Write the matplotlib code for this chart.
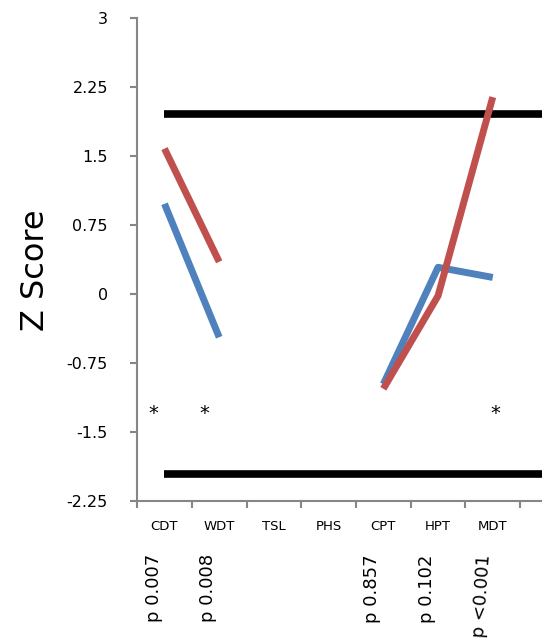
import numpy as np
import matplotlib.pyplot as plt
import matplotlib.transforms as mtransforms

# DATA
categories = ['CDT', 'WDT', 'TSL', 'PHS', 'CPT', 'HPT', 'MDT']
red_seg1 = [1.58, 0.35]            # CDT, WDT
blue_seg1 = [0.98, -0.47]
red_seg2 = [-1.03, -0.02, 2.14]    # CPT, HPT, MDT
blue_seg2 = [-0.98, 0.29, 0.18]
limit_z = 1.96
star_cats = ['CDT', 'WDT', 'MDT']
star_y = -1.3
p_labels = {'CDT': 'p 0.007', 'WDT': 'p 0.008', 'CPT': 'p 0.857',
            'HPT': 'p 0.102', 'MDT': 'p <0.001'}
yticks = [3, 2.25, 1.5, 0.75, 0, -0.75, -1.5, -2.25]
ytick_labels = ['3', '2.25', '1.5', '0.75', '0', '-0.75', '-1.5', '-2.25']

red = '#C0504D'
blue = '#4F81BD'

fig = plt.figure(figsize=(5.42, 6.42), dpi=100)
ax = fig.add_axes([0.253, 0.2196, 0.747, 0.7524])

idx = {c: i for i, c in enumerate(categories)}

# reference lines at +-1.96
ax.plot([0, 7.5], [limit_z, limit_z], color='black', lw=5.5, solid_capstyle='butt')
ax.plot([0, 7.5], [-limit_z, -limit_z], color='black', lw=5.5, solid_capstyle='butt')

ax.plot([idx['CDT'], idx['WDT']], red_seg1, color=red, lw=5, solid_capstyle='butt')
ax.plot([idx['CDT'], idx['WDT']], blue_seg1, color=blue, lw=5, solid_capstyle='butt')
x2 = [idx['CPT'], idx['HPT'], idx['MDT']]
ax.plot(x2, blue_seg2, color=blue, lw=5, solid_capstyle='butt')
ax.plot(x2, red_seg2, color=red, lw=5, solid_capstyle='butt')

# significance stars
star_dx = {'CDT': -0.2, 'WDT': -0.28, 'MDT': 0.05}
for c in star_cats:
    ax.text(idx[c] + star_dx[c], star_y, '*', ha='center', va='center', fontsize=14)

ax.set_xlim(-0.5, 6.9)
ax.set_ylim(-2.25, 3)
ax.set_yticks(yticks)
ax.set_yticklabels(ytick_labels, fontsize=11.5)
ax.set_xticks(range(len(categories)))
ax.set_xticklabels(categories, fontsize=9.5)
ax.set_xticks(np.arange(-0.5, 7, 1), minor=True)
ax.tick_params(axis='x', which='major', length=0, pad=14)
ax.tick_params(axis='x', which='minor', length=5, color='#868686', width=1.5)
ax.tick_params(axis='y', length=5, color='#868686', width=1.5, pad=16)

for s in ['top', 'right']:
    ax.spines[s].set_visible(False)
for s in ['left', 'bottom']:
    ax.spines[s].set_color('#868686')
    ax.spines[s].set_linewidth(1.5)

ax.set_ylabel('Z Score', fontsize=23)
ax.yaxis.set_label_coords(-0.213, 0.478)

trans = mtransforms.blended_transform_factory(ax.transData, ax.transAxes)
for c, t in p_labels.items():
    rot = 86 if c == 'MDT' else 90
    ax.text(idx[c] - 0.2, -0.11, t, transform=trans, rotation=rot,
            ha='center', va='top', fontsize=13)

fig.savefig('out.png', dpi=100)
